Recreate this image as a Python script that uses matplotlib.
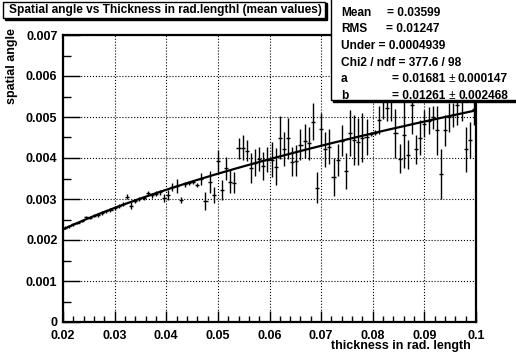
import numpy as np
import matplotlib
matplotlib.use("Agg")
import matplotlib.pyplot as plt
from matplotlib.patches import Rectangle
from matplotlib.ticker import MultipleLocator

plt.rcParams['font.family'] = ['Liberation Sans', 'DejaVu Sans']
plt.rcParams['font.weight'] = 'bold'

# ---- data (profile bins: centre, mean, error) ----
bin_width = 0.0008
x_centers = [0.0204 + 0.0008 * i for i in range(100)]
y_values = [
    0.00230, 0.00233, 0.00238, 0.00242, 0.00246, 0.00256, 0.00254, 0.00259, 0.00261, 0.00266,
    0.00270, 0.00273, 0.00278, 0.00282, 0.00287, 0.00306, 0.00284, 0.00295, 0.00299, 0.00302,
    0.00314, 0.00309, 0.00313, 0.00316, 0.00302, 0.00310, 0.00329, 0.00332, 0.00298, 0.00336,
    0.00338, 0.00341, 0.00334, 0.00349, 0.00295, 0.00342, 0.00310, 0.00393, 0.00322, 0.00375,
    0.00342, 0.00340, 0.00424, 0.00425, 0.00418, 0.00375, 0.00389, 0.00398, 0.00381, 0.00396,
    0.00396, 0.00379, 0.00450, 0.00422, 0.00448, 0.00391, 0.00393, 0.00432, 0.00441, 0.00436,
    0.00489, 0.00328, 0.00470, 0.00421, 0.00428, 0.00353, 0.00395, 0.00442, 0.00369, 0.00462,
    0.00444, 0.00440, 0.00450, 0.00452, 0.00458, 0.00462, 0.00493, 0.00545, 0.00521, 0.00550,
    0.00460, 0.00398, 0.00456, 0.00408, 0.00529, 0.00421, 0.00450, 0.00484, 0.00491, 0.00499,
    0.00468, 0.00361, 0.00468, 0.00499, 0.00505, 0.00530, 0.00540, 0.00421, 0.00444, 0.00520,
]
y_errors = [
    0.00003, 0.00003, 0.00003, 0.00003, 0.00003, 0.00003, 0.00003, 0.00004, 0.00004, 0.00004,
    0.00004, 0.00004, 0.00004, 0.00005, 0.00005, 0.00005, 0.00008, 0.00005, 0.00005, 0.00005,
    0.00005, 0.00006, 0.00006, 0.00006, 0.00010, 0.00012, 0.00010, 0.00018, 0.00008, 0.00006,
    0.00005, 0.00005, 0.00005, 0.00015, 0.00022, 0.00027, 0.00020, 0.00027, 0.00024, 0.00028,
    0.00028, 0.00026, 0.00026, 0.00030, 0.00026, 0.00036, 0.00034, 0.00030, 0.00034, 0.00030,
    0.00042, 0.00046, 0.00052, 0.00042, 0.00050, 0.00036, 0.00038, 0.00038, 0.00042, 0.00040,
    0.00044, 0.00038, 0.00040, 0.00042, 0.00042, 0.00046, 0.00040, 0.00038, 0.00044, 0.00056,
    0.00062, 0.00058, 0.00060, 0.00044, 0.00005, 0.00006, 0.00035, 0.00050, 0.00030, 0.00060,
    0.00060, 0.00035, 0.00080, 0.00036, 0.00070, 0.00035, 0.00043, 0.00033, 0.00033, 0.00028,
    0.00060, 0.00062, 0.00038, 0.00036, 0.00030, 0.00050, 0.00050, 0.00055, 0.00043, 0.00040,
]

# fit parameters (from the stats box)
fit_a = 0.01681
fit_b = 0.01261

x_ticks = [0.02, 0.03, 0.04, 0.05, 0.06, 0.07, 0.08, 0.09, 0.1]
x_ticklabels = ["0.02", "0.03", "0.04", "0.05", "0.06", "0.07", "0.08", "0.09", "0.1"]
y_ticks = [0, 0.001, 0.002, 0.003, 0.004, 0.005, 0.006, 0.007]
y_ticklabels = ["0", "0.001", "0.002", "0.003", "0.004", "0.005", "0.006", "0.007"]

stats_labels = ["Mean", "RMS"]
stats_values = ["0.03599", "0.01247"]
under_text = "Under = 0.0004939"
chi2_text = "Chi2 / ndf = 377.6 / 98"
param_names = ["a", "b"]
param_values = ["0.01681", "0.01261"]
param_errors = ["0.000147", "0.002468"]

W, H = 516, 358
fig = plt.figure(figsize=(W / 100, H / 100), dpi=100)
fig.patch.set_facecolor("white")

def fx(px):
    return px / W

def fy(py):
    return 1 - py / H

ax = fig.add_axes([fx(63), fy(322), fx(476) - fx(63), fy(35) - fy(322)])
ax.set_xlim(0.02, 0.1)
ax.set_ylim(0, 0.007)

ax.errorbar(x_centers, y_values, yerr=y_errors, xerr=bin_width / 2,
            fmt='none', ecolor='black', elinewidth=1.0, capsize=0, zorder=3)

xf = np.linspace(0.02, 0.1, 300)
ax.plot(xf, fit_a * np.sqrt(xf) * (1 + fit_b * np.log(xf)), color='black', lw=1.6, zorder=4)

ax.set_xticks(x_ticks)
ax.set_xticklabels(x_ticklabels, fontsize=9, fontweight='bold')
ax.set_yticks(y_ticks)
ax.set_yticklabels(y_ticklabels, fontsize=9, fontweight='bold')
ax.xaxis.set_minor_locator(MultipleLocator(0.002))
ax.yaxis.set_minor_locator(MultipleLocator(0.0005))
ax.tick_params(axis='both', which='both', direction='in', top=False, right=False, color='black')
ax.tick_params(axis='x', which='major', length=8, width=1, pad=5.5)
ax.tick_params(axis='x', which='minor', length=4, width=1)
ax.tick_params(axis='y', which='major', length=12, width=1, pad=4)
ax.tick_params(axis='y', which='minor', length=6, width=1)
ax.grid(True, which='major', linestyle=':', color='black', lw=0.8)
for s in ax.spines.values():
    s.set_linewidth(1.6)
ax.get_yticklabels()[0].set_va('center_baseline')

fig.text(fx(12), fy(28), "spatial angle", rotation=90, ha='center', va='top',
         fontsize=9, fontweight='bold')
fig.text(fx(471), fy(346.5), "thickness in rad. length", ha='right', va='center',
         fontsize=9, fontweight='bold')

# title box
fig.patches.append(Rectangle((fx(5), fy(20)), fx(327) - fx(5), fy(3) - fy(20),
                             transform=fig.transFigure, facecolor='black', edgecolor='black', zorder=9))
fig.patches.append(Rectangle((fx(3), fy(18)), fx(325) - fx(3), fy(1.5) - fy(18),
                             transform=fig.transFigure, facecolor='white', edgecolor='black', lw=1, zorder=10))
fig.text(fx(9), fy(10), "Spatial angle vs Thickness in rad.lengthl (mean values)",
         ha='left', va='center', fontsize=8.6, fontweight='bold', zorder=11)

# stats box
fig.patches.append(Rectangle((fx(333), fy(102)), 1.0, fy(-2) - fy(102),
                             transform=fig.transFigure, facecolor='black', edgecolor='black', zorder=9))
fig.patches.append(Rectangle((fx(331), fy(100)), 1.0, fy(-2) - fy(100),
                             transform=fig.transFigure, facecolor='white', edgecolor='black', lw=1, zorder=10))
rows_y = [12.7, 29.3, 46, 62.7, 79.3, 95.7]
fs = 8.6
for i, (lab, val) in enumerate(zip(stats_labels, stats_values)):
    fig.text(fx(341), fy(rows_y[i]), lab, ha='left', va='center', fontsize=fs, fontweight='bold', zorder=11)
    fig.text(fx(440), fy(rows_y[i]), "= " + val, ha='right', va='center', fontsize=fs, fontweight='bold', zorder=11)
fig.text(fx(341), fy(rows_y[2]), under_text, ha='left', va='center', fontsize=fs, fontweight='bold', zorder=11)
fig.text(fx(341), fy(rows_y[3]), chi2_text, ha='left', va='center', fontsize=fs, fontweight='bold', zorder=11)
for j, (n, v, e) in enumerate(zip(param_names, param_values, param_errors)):
    yy = fy(rows_y[4 + j])
    fig.text(fx(341), yy, n, ha='left', va='center', fontsize=fs, fontweight='bold', zorder=11)
    fig.text(fx(445), yy, "= " + v, ha='right', va='center', fontsize=fs, fontweight='bold', zorder=11)
    fig.text(fx(452), yy, "\u00b1", ha='center', va='center', fontsize=fs, fontweight='normal', zorder=11)
    fig.text(fx(508), yy, e, ha='right', va='center', fontsize=fs, fontweight='bold', zorder=11)

fig.savefig("out.png", dpi=100)
